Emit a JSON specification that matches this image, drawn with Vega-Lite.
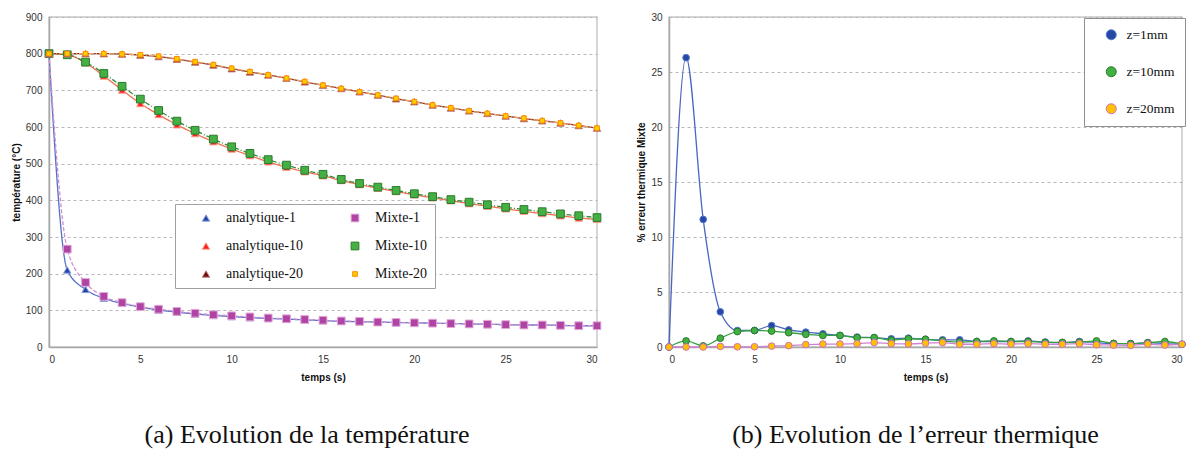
{
  "$schema": "https://vega.github.io/schema/vega-lite/v6.json",
  "background": "white",
  "padding": {"left": 10, "top": 11, "right": 0, "bottom": 0},
  "spacing": 32,
  "resolve": {"scale": {"x": "independent", "y": "independent", "color": "independent", "fill": "independent", "stroke": "independent", "shape": "independent", "size": "independent", "strokeDash": "independent"}},
  "config": {
    "font": "Liberation Sans",
    "view": {"stroke": "#c8c8c8", "strokeWidth": 1.5},
    "axis": {"labelFont": "Liberation Sans", "labelFontSize": 10, "labelColor": "#333", "titleFont": "Liberation Sans", "titleFontSize": 10, "titleFontWeight": "bold", "titleColor": "#111", "ticks": false, "domainColor": "#a8a8a8", "domainWidth": 1.5, "labelPadding": 7},
    "axisX": {"grid": false, "titlePadding": 8},
    "axisY": {"grid": true, "gridDash": [3, 3], "gridColor": "#b8b8b8", "titlePadding": 4},
    "title": {"font": "Liberation Serif", "fontSize": 26, "fontWeight": "normal", "color": "#111"}
  },
  "hconcat": [
    {
      "width": 548,
      "height": 330,
      "title": {"text": "(a) Evolution de la température", "orient": "bottom", "dx": -16, "offset": 40},
      "data": {"values": [
        {"t": 0, "analytique-1": 800, "Mixte-1": 800, "analytique-10": 800, "Mixte-10": 800, "analytique-20": 800, "Mixte-20": 800},
        {"t": 1, "analytique-1": 210, "Mixte-1": 267, "analytique-10": 797, "Mixte-10": 797, "analytique-20": 800, "Mixte-20": 800},
        {"t": 2, "analytique-1": 157, "Mixte-1": 176, "analytique-10": 775, "Mixte-10": 777, "analytique-20": 800, "Mixte-20": 800},
        {"t": 3, "analytique-1": 133, "Mixte-1": 138, "analytique-10": 739, "Mixte-10": 746, "analytique-20": 800, "Mixte-20": 800},
        {"t": 4, "analytique-1": 119, "Mixte-1": 121, "analytique-10": 701, "Mixte-10": 711, "analytique-20": 799, "Mixte-20": 799},
        {"t": 5, "analytique-1": 109, "Mixte-1": 110, "analytique-10": 664, "Mixte-10": 676, "analytique-20": 796, "Mixte-20": 797},
        {"t": 6, "analytique-1": 101, "Mixte-1": 103, "analytique-10": 634, "Mixte-10": 645, "analytique-20": 792, "Mixte-20": 793},
        {"t": 7, "analytique-1": 95, "Mixte-1": 97, "analytique-10": 606, "Mixte-10": 616, "analytique-20": 785, "Mixte-20": 786},
        {"t": 8, "analytique-1": 90, "Mixte-1": 92, "analytique-10": 582, "Mixte-10": 591, "analytique-20": 777, "Mixte-20": 778},
        {"t": 9, "analytique-1": 86, "Mixte-1": 88, "analytique-10": 560, "Mixte-10": 567, "analytique-20": 769, "Mixte-20": 770},
        {"t": 10, "analytique-1": 83, "Mixte-1": 85, "analytique-10": 540, "Mixte-10": 546, "analytique-20": 759, "Mixte-20": 760},
        {"t": 11, "analytique-1": 80, "Mixte-1": 82, "analytique-10": 522, "Mixte-10": 528, "analytique-20": 750, "Mixte-20": 751},
        {"t": 12, "analytique-1": 78, "Mixte-1": 79, "analytique-10": 505, "Mixte-10": 511, "analytique-20": 742, "Mixte-20": 742},
        {"t": 13, "analytique-1": 76, "Mixte-1": 77, "analytique-10": 490, "Mixte-10": 496, "analytique-20": 733, "Mixte-20": 733},
        {"t": 14, "analytique-1": 74, "Mixte-1": 75, "analytique-10": 478, "Mixte-10": 482, "analytique-20": 723, "Mixte-20": 724},
        {"t": 15, "analytique-1": 72, "Mixte-1": 73, "analytique-10": 467, "Mixte-10": 471, "analytique-20": 714, "Mixte-20": 714},
        {"t": 16, "analytique-1": 70, "Mixte-1": 71, "analytique-10": 454, "Mixte-10": 457, "analytique-20": 705, "Mixte-20": 705},
        {"t": 17, "analytique-1": 69, "Mixte-1": 70, "analytique-10": 443, "Mixte-10": 446, "analytique-20": 696, "Mixte-20": 696},
        {"t": 18, "analytique-1": 68, "Mixte-1": 68, "analytique-10": 433, "Mixte-10": 436, "analytique-20": 687, "Mixte-20": 687},
        {"t": 19, "analytique-1": 67, "Mixte-1": 67, "analytique-10": 424, "Mixte-10": 427, "analytique-20": 677, "Mixte-20": 678},
        {"t": 20, "analytique-1": 66, "Mixte-1": 66, "analytique-10": 415, "Mixte-10": 418, "analytique-20": 669, "Mixte-20": 669},
        {"t": 21, "analytique-1": 65, "Mixte-1": 65, "analytique-10": 407, "Mixte-10": 410, "analytique-20": 660, "Mixte-20": 660},
        {"t": 22, "analytique-1": 64, "Mixte-1": 64, "analytique-10": 399, "Mixte-10": 402, "analytique-20": 652, "Mixte-20": 652},
        {"t": 23, "analytique-1": 63, "Mixte-1": 63, "analytique-10": 391, "Mixte-10": 395, "analytique-20": 644, "Mixte-20": 644},
        {"t": 24, "analytique-1": 62, "Mixte-1": 62, "analytique-10": 384, "Mixte-10": 388, "analytique-20": 637, "Mixte-20": 637},
        {"t": 25, "analytique-1": 61, "Mixte-1": 61, "analytique-10": 377, "Mixte-10": 381, "analytique-20": 630, "Mixte-20": 630},
        {"t": 26, "analytique-1": 60, "Mixte-1": 60, "analytique-10": 370, "Mixte-10": 375, "analytique-20": 623, "Mixte-20": 624},
        {"t": 27, "analytique-1": 60, "Mixte-1": 60, "analytique-10": 364, "Mixte-10": 369, "analytique-20": 617, "Mixte-20": 617},
        {"t": 28, "analytique-1": 59, "Mixte-1": 59, "analytique-10": 358, "Mixte-10": 363, "analytique-20": 611, "Mixte-20": 611},
        {"t": 29, "analytique-1": 58, "Mixte-1": 58, "analytique-10": 352, "Mixte-10": 358, "analytique-20": 604, "Mixte-20": 604},
        {"t": 30, "analytique-1": 58, "Mixte-1": 58, "analytique-10": 348, "Mixte-10": 353, "analytique-20": 597, "Mixte-20": 597}
      ]},
      "transform": [{"fold": ["analytique-1", "Mixte-1", "analytique-10", "Mixte-10", "analytique-20", "Mixte-20"], "as": ["serie", "temp"]}],
      "encoding": {
        "x": {"field": "t", "type": "quantitative", "scale": {"domain": [0, 30], "nice": false}, "axis": {"title": "temps (s)", "values": [0, 5, 10, 15, 20, 25, 30]}},
        "y": {"field": "temp", "type": "quantitative", "scale": {"domain": [0, 900], "nice": false}, "axis": {"title": "température (°C)", "values": [0, 100, 200, 300, 400, 500, 600, 700, 800, 900]}}
      },
      "layer": [
        {
          "mark": {"type": "line", "interpolate": "monotone", "strokeWidth": 1.3},
          "encoding": {
            "color": {"field": "serie", "type": "nominal", "sort": ["analytique-1", "analytique-10", "analytique-20", "Mixte-1", "Mixte-10", "Mixte-20"], "scale": {"range": ["#5570c8", "#f07050", "#8b3a30", "#d090d0", "#3a8a3a", "#f0a060"]}, "legend": null},
            "strokeDash": {"field": "serie", "type": "nominal", "sort": ["analytique-1", "analytique-10", "analytique-20", "Mixte-1", "Mixte-10", "Mixte-20"], "scale": {"range": [[1, 0], [1, 0], [1, 0], [4, 2], [5, 2, 1, 2], [5, 2, 1, 2]]}, "legend": null}
          }
        },
        {
          "mark": {"type": "point", "filled": true, "opacity": 1, "strokeWidth": 1},
          "encoding": {
            "fill": {"field": "serie", "type": "nominal", "scale": {"domain": ["analytique-1", "analytique-10", "analytique-20", "Mixte-1", "Mixte-10", "Mixte-20"], "range": ["#2444a8", "#ff2020", "#6e0a0a", "#b044a4", "#44b044", "#ffcc00"]},
              "legend": {"title": null, "orient": "none", "legendX": 126, "legendY": 187, "columns": 2, "columnPadding": 28, "rowPadding": 14, "padding": 7, "symbolOffset": 17, "strokeColor": "#a0a0a0", "fillColor": "white", "labelFont": "Liberation Serif", "labelFontSize": 14, "labelColor": "#111", "labelOffset": 13, "symbolStrokeWidth": 1,
                "labelExpr": "indexof(datum.label, 'Mixte') === 0 ? datum.label + '\u00a0\u00a0\u00a0\u00a0\u00a0\u00a0\u00a0\u00a0' : datum.label"}},
            "stroke": {"field": "serie", "type": "nominal", "scale": {"domain": ["analytique-1", "analytique-10", "analytique-20", "Mixte-1", "Mixte-10", "Mixte-20"], "range": ["#8fa3dd", "#f8a090", "#c08080", "#e0a8d8", "#2d7a2d", "#ff8c00"]}},
            "shape": {"field": "serie", "type": "nominal", "scale": {"domain": ["analytique-1", "analytique-10", "analytique-20", "Mixte-1", "Mixte-10", "Mixte-20"], "range": ["triangle-up", "triangle-up", "triangle-up", "square", "square", "square"]}},
            "size": {"field": "serie", "type": "nominal", "scale": {"type": "ordinal", "domain": ["analytique-1", "analytique-10", "analytique-20", "Mixte-1", "Mixte-10", "Mixte-20"], "range": [55, 55, 55, 60, 60, 22]}}
          }
        }
      ]
    },
    {
      "width": 513,
      "height": 330,
      "title": {"text": "(b) Evolution de l’erreur thermique", "orient": "bottom", "dx": -10, "offset": 40},
      "data": {"values": [
        {"t": 0, "z=1mm": 0, "z=10mm": 0, "z=20mm": 0},
        {"t": 1, "z=1mm": 26.3, "z=10mm": 0.55, "z=20mm": 0},
        {"t": 2, "z=1mm": 11.6, "z=10mm": 0.1, "z=20mm": 0},
        {"t": 3, "z=1mm": 3.2, "z=10mm": 0.8, "z=20mm": 0.05},
        {"t": 4, "z=1mm": 1.5, "z=10mm": 1.4, "z=20mm": 0.02},
        {"t": 5, "z=1mm": 1.5, "z=10mm": 1.5, "z=20mm": 0.02},
        {"t": 6, "z=1mm": 1.95, "z=10mm": 1.45, "z=20mm": 0.08},
        {"t": 7, "z=1mm": 1.55, "z=10mm": 1.3, "z=20mm": 0.12},
        {"t": 8, "z=1mm": 1.35, "z=10mm": 1.15, "z=20mm": 0.22},
        {"t": 9, "z=1mm": 1.2, "z=10mm": 1.05, "z=20mm": 0.27},
        {"t": 10, "z=1mm": 1.05, "z=10mm": 1.05, "z=20mm": 0.27},
        {"t": 11, "z=1mm": 0.9, "z=10mm": 0.85, "z=20mm": 0.3},
        {"t": 12, "z=1mm": 0.85, "z=10mm": 0.85, "z=20mm": 0.4},
        {"t": 13, "z=1mm": 0.75, "z=10mm": 0.62, "z=20mm": 0.3},
        {"t": 14, "z=1mm": 0.8, "z=10mm": 0.75, "z=20mm": 0.28},
        {"t": 15, "z=1mm": 0.7, "z=10mm": 0.7, "z=20mm": 0.35},
        {"t": 16, "z=1mm": 0.65, "z=10mm": 0.55, "z=20mm": 0.4},
        {"t": 17, "z=1mm": 0.65, "z=10mm": 0.45, "z=20mm": 0.25},
        {"t": 18, "z=1mm": 0.5, "z=10mm": 0.5, "z=20mm": 0.25},
        {"t": 19, "z=1mm": 0.5, "z=10mm": 0.55, "z=20mm": 0.3},
        {"t": 20, "z=1mm": 0.5, "z=10mm": 0.5, "z=20mm": 0.27},
        {"t": 21, "z=1mm": 0.55, "z=10mm": 0.5, "z=20mm": 0.3},
        {"t": 22, "z=1mm": 0.45, "z=10mm": 0.42, "z=20mm": 0.25},
        {"t": 23, "z=1mm": 0.4, "z=10mm": 0.42, "z=20mm": 0.25},
        {"t": 24, "z=1mm": 0.5, "z=10mm": 0.45, "z=20mm": 0.3},
        {"t": 25, "z=1mm": 0.4, "z=10mm": 0.55, "z=20mm": 0.2},
        {"t": 26, "z=1mm": 0.3, "z=10mm": 0.33, "z=20mm": 0.18},
        {"t": 27, "z=1mm": 0.3, "z=10mm": 0.3, "z=20mm": 0.15},
        {"t": 28, "z=1mm": 0.4, "z=10mm": 0.38, "z=20mm": 0.27},
        {"t": 29, "z=1mm": 0.3, "z=10mm": 0.5, "z=20mm": 0.18},
        {"t": 30, "z=1mm": 0.25, "z=10mm": 0.25, "z=20mm": 0.25}
      ]},
      "transform": [{"fold": ["z=1mm", "z=10mm", "z=20mm"], "as": ["serie", "err"]}],
      "encoding": {
        "x": {"field": "t", "type": "quantitative", "scale": {"domain": [0, 30], "nice": false}, "axis": {"title": "temps (s)", "values": [0, 5, 10, 15, 20, 25, 30]}},
        "y": {"field": "err", "type": "quantitative", "scale": {"domain": [0, 30], "nice": false}, "axis": {"title": "% erreur thermique Mixte", "values": [0, 5, 10, 15, 20, 25, 30]}}
      },
      "layer": [
        {
          "mark": {"type": "line", "interpolate": "monotone", "strokeWidth": 1.3},
          "encoding": {
            "color": {"field": "serie", "type": "nominal", "sort": ["z=1mm", "z=10mm", "z=20mm"], "scale": {"range": ["#4a66c0", "#30a040", "#d080d0"]}, "legend": null}
          }
        },
        {
          "mark": {"type": "point", "filled": true, "opacity": 1, "strokeWidth": 1, "size": 45},
          "encoding": {
            "fill": {"field": "serie", "type": "nominal", "scale": {"domain": ["z=1mm", "z=10mm", "z=20mm"], "range": ["#2448a8", "#40b040", "#ffc000"]},
              "legend": {"title": null, "orient": "none", "legendX": 415, "legendY": 1, "padding": 10, "symbolOffset": 10.5, "rowPadding": 22, "strokeColor": "#909090", "fillColor": "white", "labelFont": "Liberation Serif", "labelFontSize": 13.5, "labelColor": "#111", "labelOffset": 8.5, "symbolStrokeWidth": 1,
                "labelExpr": "datum.label + '\u00a0'"}},
            "stroke": {"field": "serie", "type": "nominal", "scale": {"domain": ["z=1mm", "z=10mm", "z=20mm"], "range": ["#5a78c8", "#2d7a2d", "#d070c0"]}}
          }
        }
      ]
    }
  ]
}
